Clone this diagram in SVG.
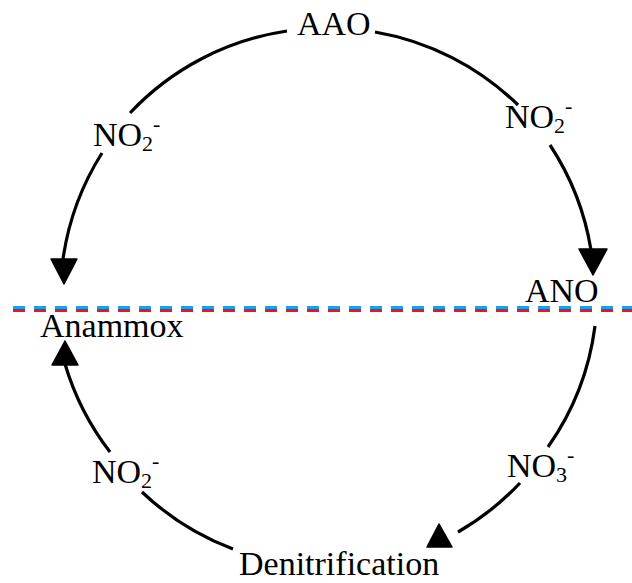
<svg xmlns="http://www.w3.org/2000/svg" width="632" height="583" viewBox="0 0 632 583">
<style>
.lbl{font-family:"Liberation Serif","Times New Roman",serif;font-size:34px;fill:#000}
.sub{font-size:22px}
.arc{fill:none;stroke:#000;stroke-width:3.2;stroke-linecap:butt}
.head{fill:#000;stroke:#000;stroke-width:1.5;stroke-linejoin:round}
</style>
<rect width="632" height="583" fill="#fff"/>
<g id="connectors">
<path class="arc" d="M63,259 A270,270 0 0 1 102,153"/>
<path class="arc" d="M130,113 A270,270 0 0 1 287,31"/>
<path class="arc" d="M375,32 A270,270 0 0 1 518,105"/>
<path class="arc" d="M550,145 A270,270 0 0 1 591,250"/>
<path class="arc" d="M595,326 A270,270 0 0 1 548,447"/>
<path class="arc" d="M520,483 A270,270 0 0 1 458,532"/>
<path class="arc" d="M233,549 A270,270 0 0 1 142,492"/>
<path class="arc" d="M110,452 A270,270 0 0 1 65,364"/>
<polygon class="head" points="51,259 77,259 64,284"/>
<polygon class="head" points="579,249 607,249 593,275"/>
<polygon class="head" points="65,341 52,365 78,365"/>
<polygon class="head" points="439,524 427,547 452,547"/>
</g>
<g id="divider">
<line x1="13" y1="307.5" x2="632" y2="307.5" stroke="#1ea0e6" stroke-width="3" stroke-dasharray="12 9"/>
<line x1="13" y1="310.5" x2="632" y2="310.5" stroke="#ff0a1e" stroke-width="3" stroke-dasharray="12 9"/>
</g>
<g id="AAO"><text class="lbl" x="297" y="35">AAO</text></g>
<g id="ANO"><text class="lbl" x="525" y="302">ANO</text></g>
<g id="Anammox"><text class="lbl" x="40" y="337">Anammox</text></g>
<g id="Denitrification"><text class="lbl" x="239" y="575">Denitrification</text></g>
<g id="label-no2-ul"><text class="lbl" x="93" y="146">NO<tspan class="sub" dy="5">2</tspan><tspan class="sub" dy="-20">-</tspan></text></g>
<g id="label-no2-ur"><text class="lbl" x="505" y="128">NO<tspan class="sub" dy="5">2</tspan><tspan class="sub" dy="-20">-</tspan></text></g>
<g id="label-no2-ll"><text class="lbl" x="92" y="483">NO<tspan class="sub" dy="5">2</tspan><tspan class="sub" dy="-20">-</tspan></text></g>
<g id="label-no3"><text class="lbl" x="507" y="477">NO<tspan class="sub" dy="5">3</tspan><tspan class="sub" dy="-20">-</tspan></text></g>
</svg>
